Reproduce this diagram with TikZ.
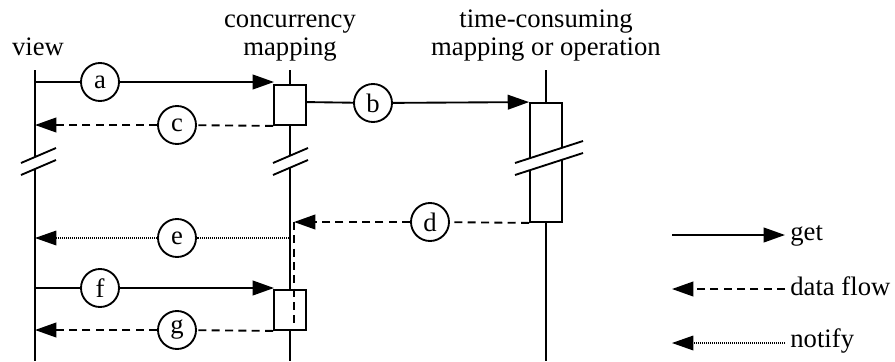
\documentclass[tikz,border=0pt]{standalone}
\usepackage{fontspec}
\setmainfont{Liberation Serif}
\usetikzlibrary{arrows.meta}

\tikzset{
    every node/.style={font=\fontsize{20}{21}\selectfont},
    tag/.style={draw, circle, minimum size=28.5pt, inner sep=0pt},
    act/.style={draw, fill=white, rectangle, minimum width=24pt, minimum height=30pt, inner sep=0pt},
    tip/.style={-{Triangle[length=16pt,width=11pt]}},
    data/.style={dash pattern=on 6pt off 4pt},
    note/.style={dash pattern=on 0.75pt off 0.75pt, line width=0.9pt},
}

\begin{document}
\begin{tikzpicture}[x=0.75pt, y=-0.75pt, line width=1.4pt]
    \useasboundingbox (0,0) rectangle (895,361);

    % names over the lifelines
    \node[anchor=base] (viewname) at (38,55) {view};
    \node[anchor=base, align=center] (concname) at (290,55) {concurrency\\mapping};
    \node[anchor=base, align=center] (timename) at (546,55) {time-consuming\\mapping or operation};

    % lifelines
    \coordinate (view) at (35,70);
    \coordinate (viewend) at (35,361);
    \coordinate (conc) at (290,70);
    \coordinate (concend) at (290,361);
    \coordinate (time) at (546,70);
    \coordinate (timeend) at (546,361);
    \draw (view) -- (viewend);
    \draw (conc) -- (concend);
    \draw (time) -- (timeend);

    % activation boxes
    \node[act] (box1) at (290,105) {};
    \node[act] (box2) at (290,310) {};
    \node[act, minimum height=89.25pt] (box3) at (546,162.5) {};

    % time breaks
    \foreach \x/\y/\w/\h in {38.5/155.5/17.5/7.5, 290.5/155.5/17.5/7.5, 549/152/34/11} {
        \fill[white] (\x-\w,\y+\h) -- (\x+\w,\y-\h) -- (\x+\w,\y-\h+12) -- (\x-\w,\y+\h+12) -- cycle;
        \draw (\x-\w,\y+\h) -- (\x+\w,\y-\h);
        \draw (\x-\w,\y+\h+12) -- (\x+\w,\y-\h+12);
    }

    % messages
    \node[tag] (a) at (100,82) {a};
    \coordinate (va) at (35,82);
    \coordinate (ca) at (274,82);
    \draw (va) -- (a);
    \draw[tip] (a) -- (ca);

    \node[tag] (b) at (373,103) {b};
    \draw (box1.east |- box3.north) -- (b);
    \draw[tip] (b) -- (box3.north west);

    \node[tag] (c) at (177,125) {c};
    \coordinate (vc) at (35,125);
    \draw[data] (box1.south west) -- (c);
    \draw[data, tip] (c) -- (vc);

    \node[tag] (d) at (430,222) {d};
    \coordinate (dturn) at (294,222);
    \coordinate (dend) at (294,328);
    \draw[data] (box3.south west) -- (d);
    \draw[data, tip] (d) -- (dturn);
    \draw[data] (dturn) -- (dend);

    \node[tag] (e) at (177,238) {e};
    \coordinate (ce) at (289,238);
    \coordinate (ve) at (35,238);
    \draw[note] (ce) -- (e);
    \draw[note, tip] (e) -- (ve);

    \node[tag] (f) at (100,288) {f};
    \coordinate (vf) at (35,288);
    \coordinate (cf) at (274,288);
    \draw (vf) -- (f);
    \draw[tip] (f) -- (cf);

    \node[tag] (g) at (177,330) {g};
    \coordinate (vg) at (35,330);
    \draw[data] (box2.south west) -- (g);
    \draw[data, tip] (g) -- (vg);

    % legend
    \node[anchor=base west] (kget) at (785,240.5) {get};
    \node[anchor=base west] (kflow) at (785,295) {data flow};
    \node[anchor=base west] (knote) at (785,347) {notify};
    \coordinate (k1) at (672,235);
    \coordinate (k2) at (672,289);
    \coordinate (k3) at (672,343);
    \draw[tip] (k1) -- (kget.west |- k1);
    \draw[data, tip] (kflow.west |- k2) -- (k2);
    \draw[note, tip] (knote.west |- k3) -- (k3);
\end{tikzpicture}
\end{document}
